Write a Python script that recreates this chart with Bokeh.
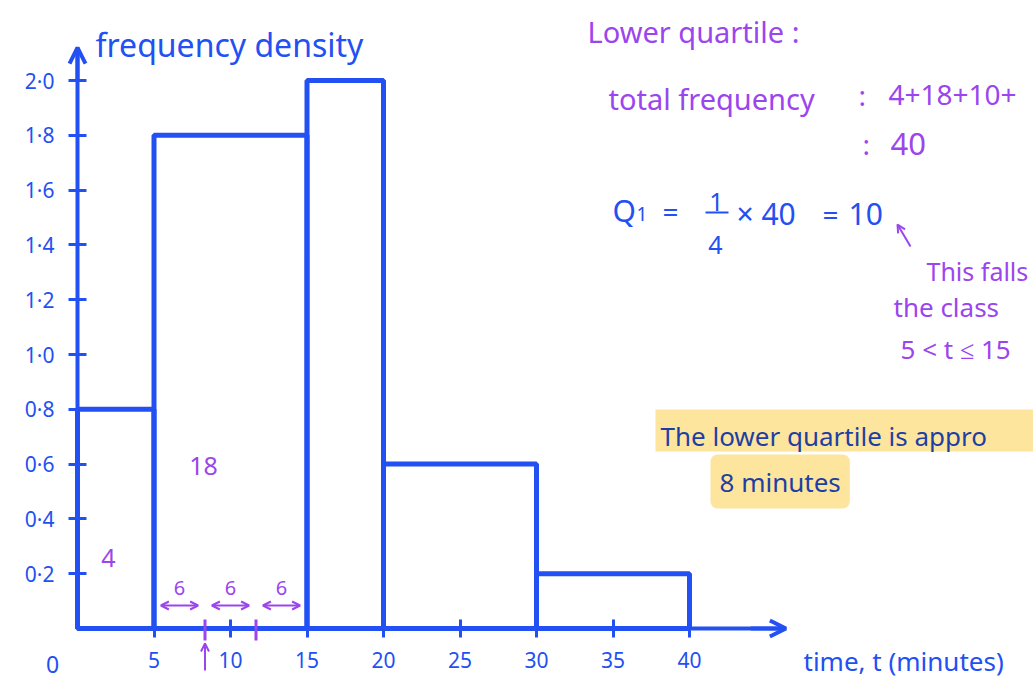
from bokeh.plotting import figure
from bokeh.models import Range1d, FixedTicker, Arrow, OpenHead, Label, BoxAnnotation
from bokeh.embed import file_html
from bokeh.resources import INLINE

# ---- data ----
class_lower = [0, 5, 15, 20, 30]
class_upper = [5, 15, 20, 30, 40]
freq_density = [0.8, 1.8, 2.0, 0.6, 0.2]
frequency = [4, 18, 10, 6, 2]
y_ticks = [0.2, 0.4, 0.6, 0.8, 1.0, 1.2, 1.4, 1.6, 1.8, 2.0]
y_tick_labels = ["0·2", "0·4", "0·6", "0·8", "1·0", "1·2", "1·4", "1·6", "1·8", "2·0"]
x_ticks = [5, 10, 15, 20, 25, 30, 35, 40]

BLUE = "#2350f2"
PURPLE = "#9b45ee"
DARKBLUE = "#1d3fa3"
YELLOW = "#fde59e"
FONT = "Noto Sans"

W, H = 1033, 684
X0, SX = 77, 15.3   # canvas px of x=0, px per minute
Y0, SY = 628, 274   # canvas px of y=0, px per unit density


def dx(px):
    return (px - X0) / SX


def dy(py):
    return (Y0 - py) / SY


p = figure(width=W, height=H,
           x_range=Range1d(-X0 / SX, (W - X0) / SX),
           y_range=Range1d(-(H - Y0) / SY, Y0 / SY),
           output_backend="svg", toolbar_location=None, min_border=0)
p.outline_line_color = None
p.grid.visible = False
p.background_fill_color = "white"
p.border_fill_color = "white"

for ax in (p.xaxis, p.yaxis):
    ax.fixed_location = 0
    ax.axis_line_color = BLUE
    ax.axis_line_width = 4
    ax.major_tick_line_color = BLUE
    ax.major_tick_line_width = 3
    ax.major_tick_in = 9
    ax.major_tick_out = 9
    ax.minor_tick_line_color = None
    ax.major_label_text_color = BLUE
    ax.major_label_text_font = FONT
    ax.major_label_text_font_size = "21px"

p.xaxis.bounds = (0, 46.3)
p.yaxis.bounds = (0, 2.12)
p.xaxis.ticker = FixedTicker(ticks=x_ticks)
p.yaxis.ticker = FixedTicker(ticks=y_ticks)
p.yaxis.major_label_overrides = {t: l for t, l in zip(y_ticks, y_tick_labels)}
p.xaxis.major_label_standoff = 14
p.yaxis.major_label_standoff = 14

# highlight band (runs off the right edge, as in the reference)
p.add_layout(BoxAnnotation(left=dx(655), right=dx(1040), bottom=dy(451), top=dy(409),
                           fill_color=YELLOW, fill_alpha=1, line_color=None, level="underlay"))

# histogram bars
p.quad(left=class_lower, right=class_upper, bottom=0, top=freq_density,
       fill_alpha=0, line_color=BLUE, line_width=5)

# axis arrow heads
p.add_layout(Arrow(x_start=0, y_start=2.0, x_end=0, y_end=2.12, line_color=BLUE, line_width=4,
                   end=OpenHead(size=16, line_color=BLUE, line_width=4)))
p.add_layout(Arrow(x_start=44, y_start=0, x_end=46.3, y_end=0, line_color=BLUE, line_width=4,
                   end=OpenHead(size=16, line_color=BLUE, line_width=4)))


def label(px, py, text, color, size, align="left"):
    p.add_layout(Label(x=dx(px), y=dy(py), text=text, text_color=color, text_font=FONT,
                       text_font_size=f"{size}px", text_baseline="alphabetic", text_align=align))


# axis titles
label(95, 44, "frequency density", BLUE, 32)
label(803, 660, "time, t (minutes)", BLUE, 26)
label(52, 664, "0", BLUE, 23, "center")

# frequencies inside bars
label(108, 557, str(frequency[0]), PURPLE, 25, "center")
label(203, 465, str(frequency[1]), PURPLE, 25, "center")

# split of the 5-15 class into 3 groups of 6
n_parts = 3
w = (class_upper[1] - class_lower[1]) / n_parts
bounds = [class_lower[1] + i * w for i in range(n_parts + 1)]
part = frequency[1] // n_parts
for i in range(n_parts):
    a, b = bounds[i] + 0.45, bounds[i + 1] - 0.45
    p.add_layout(Arrow(x_start=a, y_start=dy(605), x_end=b, y_end=dy(605), line_color=PURPLE, line_width=2,
                       start=OpenHead(size=8, line_color=PURPLE, line_width=2),
                       end=OpenHead(size=8, line_color=PURPLE, line_width=2)))
    p.add_layout(Label(x=(a + b) / 2, y=dy(587), text=str(part), text_color=PURPLE, text_font=FONT,
                       text_font_size="20px", text_align="center", text_baseline="alphabetic"))
for xm in bounds[1:3]:
    p.add_layout(Arrow(x_start=xm, y_start=dy(619), x_end=xm, y_end=dy(640), line_color=PURPLE,
                       line_width=3, end=None))
p.add_layout(Arrow(x_start=bounds[1], y_start=dy(670), x_end=bounds[1], y_end=dy(643), line_color=PURPLE,
                   line_width=2, end=OpenHead(size=8, line_color=PURPLE, line_width=2)))

# working on the right (the reference page is cropped at its right edge)
label(587, 31, "Lower quartile :", PURPLE, 29)
label(608, 98, "total frequency", PURPLE, 29)
label(858, 94, ":", PURPLE, 28)
label(888, 94, "4+18+10+", PURPLE, 28)
label(862, 143, ":", PURPLE, 28)
label(890, 143, "40", PURPLE, 31)

label(612, 210, "Q", BLUE, 30)
label(636, 213, "1", BLUE, 19)
label(662, 210, "=", BLUE, 28)
label(716, 201, "1", BLUE, 25, "center")
p.add_layout(Arrow(x_start=dx(705), y_start=dy(212), x_end=dx(728), y_end=dy(212), line_color=BLUE,
                   line_width=2, end=None))
label(715, 244, "4", BLUE, 25, "center")
label(736, 213, "× 40", BLUE, 30)
label(822, 213, "=", BLUE, 28)
label(848, 213, "10", BLUE, 30)

p.add_layout(Arrow(x_start=dx(910), y_start=dy(246), x_end=dx(897), y_end=dy(224), line_color=PURPLE,
                   line_width=2, end=OpenHead(size=8, line_color=PURPLE, line_width=2)))
label(926, 270, "This falls", PURPLE, 25)
label(893, 306, "the class", PURPLE, 26)
label(900, 348, "5 < t ≤ 15", PURPLE, 26)

label(660, 435, "The lower quartile is appro", DARKBLUE, 26)
p.add_layout(Label(x=dx(710), y=dy(481), text="8 minutes", text_color=DARKBLUE,
                   text_font=FONT, text_font_size="26px", text_baseline="alphabetic",
                   background_fill_color=YELLOW, padding=9, border_radius=7))

open("out.html", "w").write(file_html(p, INLINE))
